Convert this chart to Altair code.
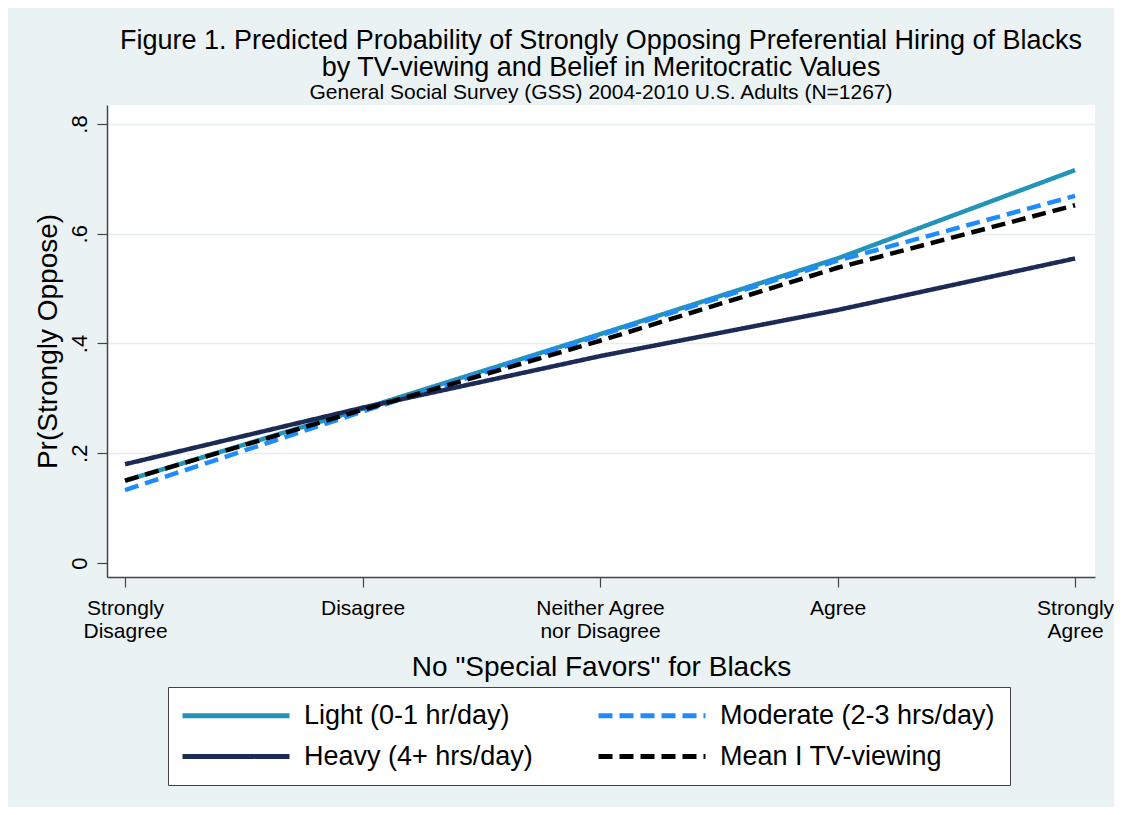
import json
import altair as alt
import pandas as pd

# ---- data ----
x_pos = [1, 2, 3, 4, 5]
x_labels = [["Strongly", "Disagree"], ["Disagree"], ["Neither Agree", "nor Disagree"],
            ["Agree"], ["Strongly", "Agree"]]
series_names = ["Light (0-1 hr/day)", "Moderate (2-3 hrs/day)",
                "Heavy (4+ hrs/day)", "Mean I TV-viewing"]
light = [0.150, 0.281, 0.417, 0.555, 0.716]
moderate = [0.133, 0.276, 0.415, 0.551, 0.669]
heavy = [0.180, 0.283, 0.377, 0.461, 0.555]
mean_tv = [0.150, 0.279, 0.405, 0.538, 0.652]
y_ticks = [0, 0.2, 0.4, 0.6, 0.8]

series_vals = [light, moderate, heavy, mean_tv]
colors = ["#2394B8", "#1E8CFF", "#1C2A56", "#000000"]
dashes = [[1, 0], [14, 7], [1, 0], [14, 7]]

rows = []
for name, vals in zip(series_names, series_vals):
    for x, v in zip(x_pos, vals):
        rows.append({"series": name, "x": x, "p": v})
df = pd.DataFrame(rows)

FONT = "Liberation Sans"
label_expr = json.dumps(x_labels).replace('"', "'") + "[datum.value - 1]"

legend = alt.Legend(
    title=None, orient="none", legendX=61, legendY=582, columns=2, direction="horizontal",
    symbolType="M-1.4,0H9.3", symbolSize=400, symbolStrokeWidth=5,
    labelFontSize=27, labelFont=FONT, labelColor="black", labelOffset=94,
    fillColor="white", strokeColor="#444444", padding=15,
    rowPadding=13, columnPadding=55, labelLimit=500,
)

chart = alt.Chart(df).mark_line(strokeWidth=4.5, strokeCap="butt").encode(
    x=alt.X("x:Q",
            scale=alt.Scale(domain=[0.924, 5.084], nice=False, zero=False),
            axis=alt.Axis(values=x_pos, labelExpr=label_expr, title='No "Special Favors" for Blacks',
                          tickSize=10, labelPadding=10, labelFontSize=21, labelLineHeight=23,
                          labelFont=FONT, titleFont=FONT, titleFontSize=28, titleFontWeight="normal",
                          titlePadding=12, grid=False, domainColor="#444444", domainWidth=1.5,
                          tickColor="#444444", tickWidth=1.2, labelColor="black", titleColor="black")),
    y=alt.Y("p:Q",
            scale=alt.Scale(domain=[-0.0255, 0.8346], nice=False, zero=False),
            axis=alt.Axis(values=y_ticks,
                          labelExpr="datum.value == 0 ? '0' : replace(format(datum.value, '.1f'), '0.', '.')",
                          labelAngle=-90, title="Pr(Strongly Oppose)", tickSize=10, labelPadding=6,
                          labelFontSize=22, labelFont=FONT, titleFont=FONT, titleFontSize=28,
                          titleFontWeight="normal", titlePadding=6,
                          grid=True, gridColor={"condition": {"test": "datum.value == 0", "value": "white"},
                                                "value": "#E6EEF0"},
                          gridWidth=1.5, domainColor="#444444", domainWidth=1.5,
                          tickColor="#444444", tickWidth=1.2, labelColor="black", titleColor="black")),
    color=alt.Color("series:N", sort=series_names,
                    scale=alt.Scale(domain=series_names, range=colors), legend=legend),
    strokeDash=alt.StrokeDash("series:N", sort=series_names,
                              scale=alt.Scale(domain=series_names, range=dashes), legend=legend),
).properties(
    width=988, height=472,
    title=alt.TitleParams(
        text=["Figure 1. Predicted Probability of Strongly Opposing Preferential Hiring of Blacks",
              "by TV-viewing and Belief in Meritocratic Values"],
        subtitle="General Social Survey (GSS) 2004-2010 U.S. Adults (N=1267)",
        anchor="middle", frame="group", font=FONT, fontSize=27, fontWeight="normal",
        lineHeight=27, subtitleFont=FONT, subtitleFontSize=21, subtitlePadding=0,
        color="black", subtitleColor="black", offset=1,
    ),
    autosize=alt.AutoSizeParams(type="none"),
    padding={"left": 99, "top": 97, "right": 19, "bottom": 230},
    background="#EAF2F3",
).configure_view(fill="white", stroke=None)

chart.save("out.html", embed_options={"renderer": "svg", "actions": False})
